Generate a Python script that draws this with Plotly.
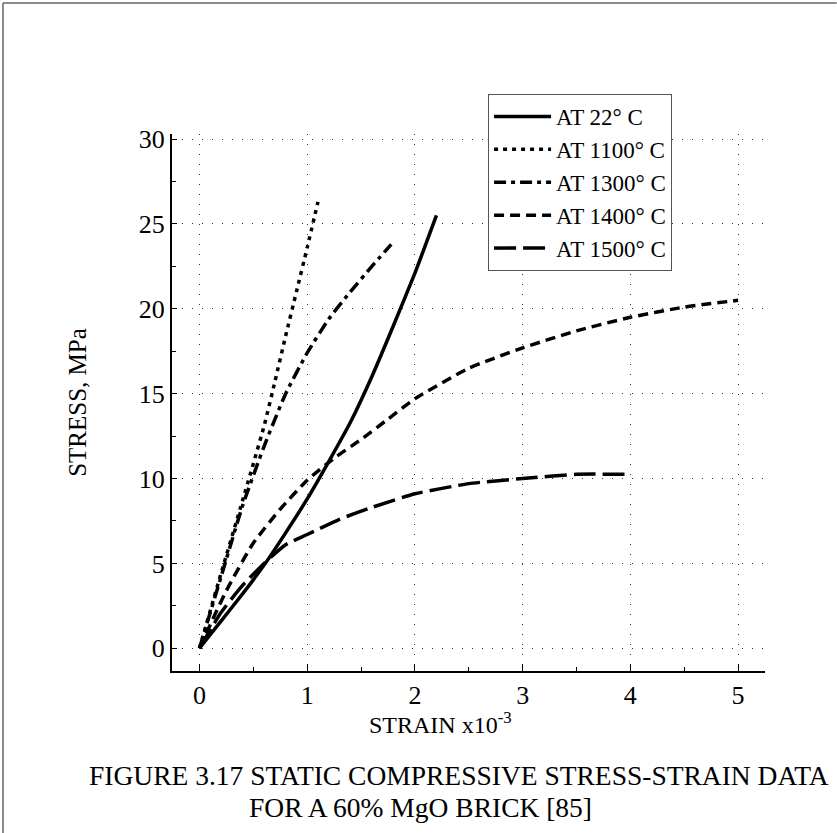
import plotly.graph_objects as go

# ---- data (strain x1e-3, stress MPa) ----
names = ["AT 22° C", "AT 1100° C", "AT 1300° C", "AT 1400° C", "AT 1500° C"]

strain_22 = [0, 0.2, 0.4, 0.6, 0.8, 1.0, 1.2, 1.4, 1.6, 1.8, 2.0, 2.2]
stress_22 = [0, 1.6, 3.2, 4.9, 6.8, 8.8, 11.0, 13.3, 16.0, 19.0, 22.1, 25.5]

strain_1100 = [0, 0.2, 0.4, 0.6, 0.7, 0.8, 0.9, 1.0, 1.1]
stress_1100 = [0, 4.4, 8.7, 13.1, 15.7, 18.4, 21.0, 23.6, 26.3]

strain_1300 = [0, 0.2, 0.4, 0.6, 0.8, 1.0, 1.2, 1.4, 1.6, 1.78]
stress_1300 = [0, 4.2, 8.4, 11.9, 15.0, 17.4, 19.4, 21.0, 22.5, 23.8]

strain_1400 = [0, 0.25, 0.5, 0.75, 1.0, 1.25, 1.5, 1.75, 2.0, 2.5, 3.0, 3.5, 4.0, 4.5, 5.0]
stress_1400 = [0, 3.4, 6.2, 8.2, 9.9, 11.2, 12.3, 13.5, 14.7, 16.5, 17.7, 18.7, 19.5, 20.1, 20.5]

strain_1500 = [0, 0.2, 0.4, 0.6, 0.8, 1.0, 1.3, 1.6, 2.0, 2.5, 3.0, 3.5, 4.0]
stress_1500 = [0, 2.1, 3.7, 5.0, 6.1, 6.7, 7.6, 8.3, 9.1, 9.7, 10.0, 10.25, 10.25]

x_ticks = [0, 1, 2, 3, 4, 5]
y_ticks = [0, 5, 10, 15, 20, 25, 30]

series = [
    (strain_22, stress_22, "solid"),
    (strain_1100, stress_1100, "4px,5px"),
    (strain_1300, stress_1300, "12px,5px,4px,5px"),
    (strain_1400, stress_1400, "10px,6px"),
    (strain_1500, stress_1500, "22px,7px"),
]

SERIF = "Liberation Serif, Times New Roman, serif"

fig = go.Figure()
for (xs, ys, dash), nm in zip(series, names):
    fig.add_trace(go.Scatter(x=xs, y=ys, mode="lines", name=nm,
                             line=dict(color="black", width=3.5, dash=dash, shape="spline", smoothing=0.5)))

axis_common = dict(
    showline=True, linecolor="black", linewidth=2,
    showgrid=True, gridcolor="#333333", gridwidth=1, griddash="1px,9px",
    zeroline=False, ticks="inside", tickcolor="black",
    tickfont=dict(family=SERIF, size=26, color="black"),
)

fig.update_layout(
    width=837, height=833,
    margin=dict(l=172, r=72, t=134, b=162),
    paper_bgcolor="white", plot_bgcolor="white",
    font=dict(family=SERIF, color="black"),
    showlegend=True,
    legend=dict(x=0.533, y=1.0745, xanchor="left", yanchor="top",
                bgcolor="white", bordercolor="#555555", borderwidth=1,
                font=dict(family=SERIF, size=23, color="black"),
                itemwidth=57, tracegroupgap=0),
    xaxis=dict(range=[-0.255, 5.25], tickvals=x_ticks, ticklen=7,
               minor=dict(dtick=0.5, ticks="inside", ticklen=4, tickcolor="black", showgrid=False),
               **axis_common),
    yaxis=dict(range=[-1.34, 30.3], tickvals=y_ticks, ticklen=5,
               minor=dict(dtick=2.5, ticks="inside", ticklen=4, tickcolor="black", showgrid=False),
               title=dict(text="STRESS, MPa", font=dict(family=SERIF, size=25, color="black"), standoff=45),
               **axis_common),
)

fig.add_annotation(text="STRAIN x10<sup>-3</sup>", xref="paper", yref="paper",
                   x=0.452, y=-0.096, xanchor="center", yanchor="middle", showarrow=False,
                   font=dict(family=SERIF, size=24, color="black"))
fig.add_annotation(text="FIGURE 3.17 STATIC COMPRESSIVE STRESS-STRAIN DATA", xref="paper", yref="paper",
                   x=-0.1433, y=-0.1937, xanchor="left", yanchor="middle", showarrow=False,
                   font=dict(family=SERIF, size=27.5, color="black"))
fig.add_annotation(text="FOR A 60% MgO BRICK [85]", xref="paper", yref="paper",
                   x=0.1265, y=-0.255, xanchor="left", yanchor="middle", showarrow=False,
                   font=dict(family=SERIF, size=27.5, color="black"))

# page frame (top and left border lines)
fig.add_shape(type="line", xref="paper", yref="paper", x0=-0.285, x1=1.121, y0=1.244, y1=1.244,
              line=dict(color="#666666", width=1.5))
fig.add_shape(type="line", xref="paper", yref="paper", x0=-0.285, x1=-0.285, y0=1.244, y1=-0.302,
              line=dict(color="#666666", width=1.5))

fig.write_html("out.html")
